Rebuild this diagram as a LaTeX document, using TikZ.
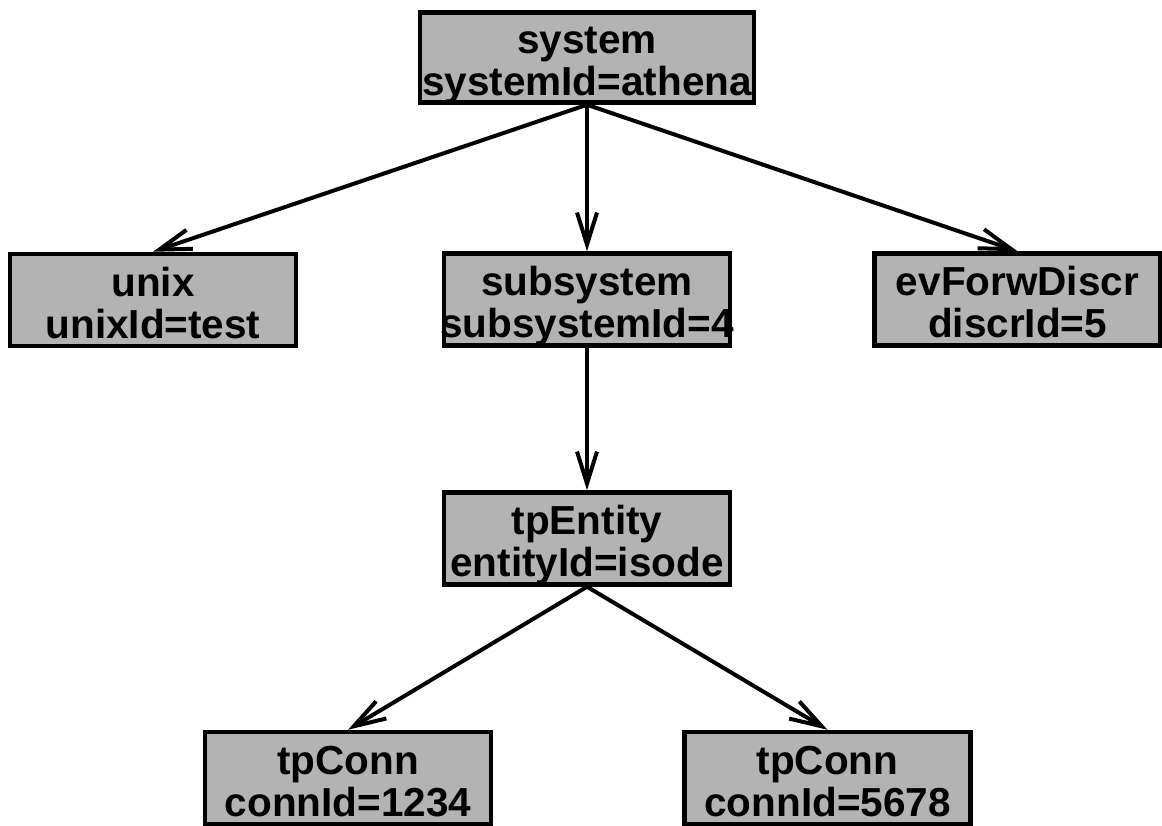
\documentclass[tikz,border=0pt]{standalone}
\usepackage{fontspec}
\setmainfont{Liberation Sans}
\usetikzlibrary{arrows.meta}
\definecolor{boxfill}{RGB}{179,179,179}
% two centred lines of zero overall width, so long labels may overhang the box
\newcommand\boxlabel[2]{\hbox to 0pt{\hss\vtop{\halign{\hfil##\hfil\cr #1\cr #2\cr}}\hss}}
\begin{document}
\begin{tikzpicture}[x=0.75pt,y=-0.75pt,
  objbox/.style={draw=black, fill=boxfill, line width=3.375pt, rectangle,
    inner sep=0pt, minimum width=214.5pt, minimum height=69pt,
    text height=0pt, text depth=6pt,
    font=\bfseries\fontsize{30.375pt}{31.5pt}\selectfont},
  link/.style={line width=3pt, -{Straight Barb[length=24pt,width=15pt]}}]
\useasboundingbox (0,0) rectangle (1162,825);

\node[objbox, minimum width=250.5pt, minimum height=67.5pt] (sys) at (587,57.5)
  {\boxlabel{system}{systemId=athena}};
\node[objbox] (unix) at (153,300) {\boxlabel{unix}{unixId=test}};
\node[objbox] (sub)  at (587,299.5) {\boxlabel{subsystem}{subsystemId=4}};
\node[objbox] (ev)   at (1017.5,299.5) {\boxlabel{evForwDiscr}{discrId=5}};
\node[objbox] (ent)  at (587,538.5) {\boxlabel{tpEntity}{entityId=isode}};
\node[objbox] (c1)   at (348,778) {\boxlabel{tpConn}{connId=1234}};
\node[objbox] (c2)   at (827.5,778) {\boxlabel{tpConn}{connId=5678}};

\draw[link] (sys.south) -- (unix.north);
\draw[link] (sys.south) -- (sub.north);
\draw[link] (sys.south) -- (ev.north);
\draw[link] (sub.south) -- (ent.north);
\draw[link] (ent.south) -- (c1.north);
\draw[link] (ent.south) -- (c2.north);
\end{tikzpicture}
\end{document}
